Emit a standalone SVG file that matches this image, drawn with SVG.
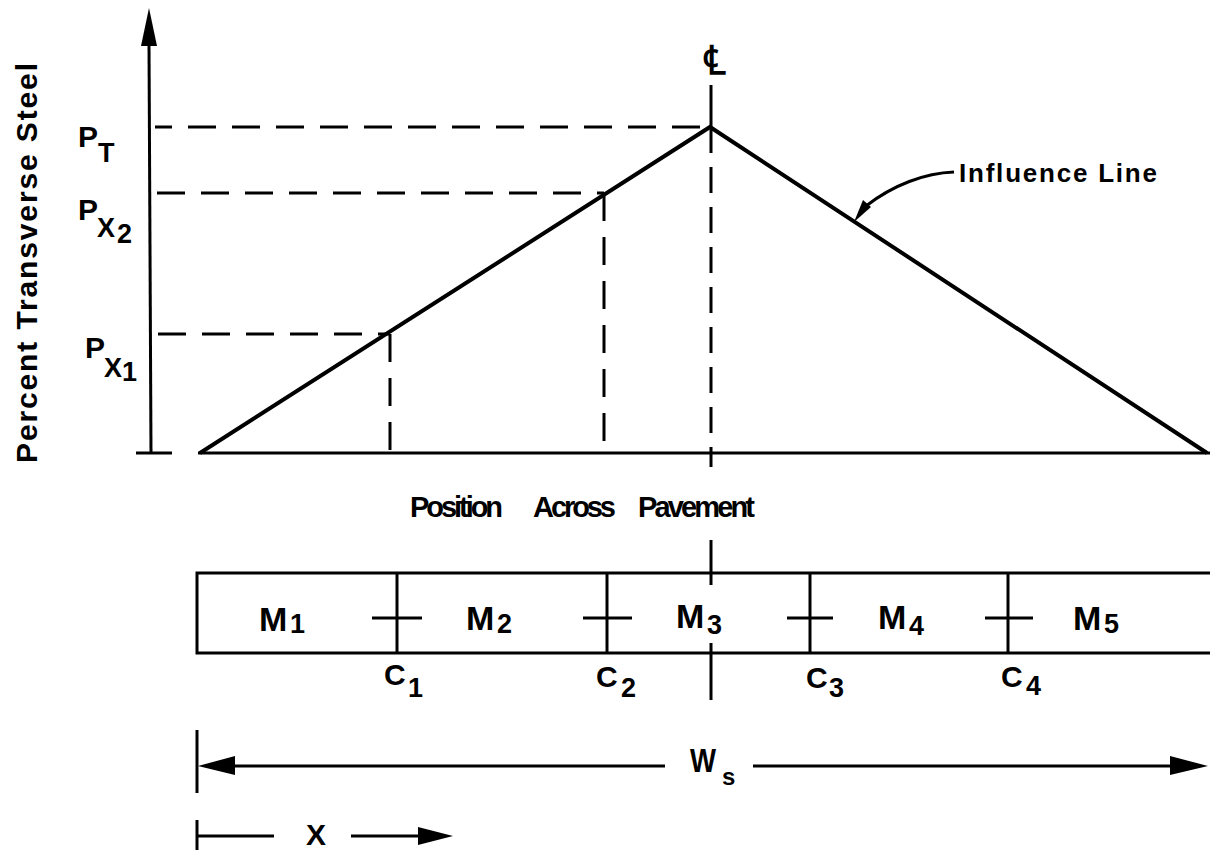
<svg xmlns="http://www.w3.org/2000/svg" width="1210" height="852" viewBox="0 0 1210 852">
<style>
text{font-family:"Liberation Sans",Arial,sans-serif;font-weight:bold;fill:#000}
.ln{stroke:#000;stroke-width:3;fill:none;stroke-linecap:butt}
.thick{stroke:#000;stroke-width:4;fill:none;stroke-linejoin:miter}
.dash{stroke:#000;stroke-width:3;fill:none;stroke-dasharray:28 16}
.vdash{stroke:#000;stroke-width:3;fill:none;stroke-dasharray:26 14}
.ah{fill:#000;stroke:none}
.lab{font-size:30px}
.sub{font-size:27px}
.m{font-size:34px}
</style>
<rect width="1210" height="852" fill="#fff"/>

<g id="y-axis">
  <line class="ln" x1="149" y1="44" x2="151" y2="453" stroke-width="3.5"/>
  <polygon class="ah" points="149,8 141,46 157,46"/>
  <line class="ln" x1="136" y1="453" x2="172" y2="453"/>
  <text class="lab" transform="translate(37,263) rotate(-90)" text-anchor="middle" textLength="400" lengthAdjust="spacing">Percent Transverse Steel</text>
</g>

<g id="y-labels">
  <text class="lab" x="78" y="147">P</text><text class="sub" x="98" y="162">T</text>
  <text class="lab" x="78" y="220">P</text><text class="sub" x="97" y="237">X</text><text class="sub" x="117" y="243">2</text>
  <text class="lab" x="85" y="358">P</text><text class="sub" x="104" y="377">X</text><text class="sub" x="122" y="381">1</text>
</g>

<g id="influence-line">
  <line class="ln" x1="198" y1="453" x2="1210" y2="453"/>
  <polyline class="thick" points="200,453 710,127 1207,453"/>
  <text font-size="26px" x="959" y="182" textLength="198" lengthAdjust="spacing">Influence Line</text>
</g>

<g id="centerline">
  <text font-family="'DejaVu Sans',sans-serif" font-weight="bold" font-size="40px" x="714" y="74" text-anchor="middle">℄</text>
  <line class="ln" x1="711" y1="85" x2="711" y2="127"/>
  <line class="vdash" x1="711" y1="127" x2="711" y2="453"/>
  <line class="ln" x1="711" y1="453" x2="711" y2="467"/>
  <line class="ln" x1="711" y1="540" x2="711" y2="585"/>
  <line class="ln" x1="711" y1="643" x2="711" y2="700"/>
</g>

<g id="axis-title">
  <text font-size="29px" x="410" y="517" textLength="93" lengthAdjust="spacing">Position</text>
  <text font-size="29px" x="533" y="517" textLength="83" lengthAdjust="spacing">Across</text>
  <text font-size="29px" x="638" y="517" textLength="117" lengthAdjust="spacing">Pavement</text>
</g>

<g id="slab">
  <path class="ln" d="M1210 573 H197 V653 H1210"/>
  <line class="ln" x1="397" y1="573" x2="397" y2="653"/>
  <line class="ln" x1="607" y1="573" x2="607" y2="653"/>
  <line class="ln" x1="810" y1="573" x2="810" y2="653"/>
  <line class="ln" x1="1008" y1="573" x2="1008" y2="653"/>
  <line class="ln" x1="372" y1="618" x2="422" y2="618"/>
  <line class="ln" x1="583" y1="618" x2="632" y2="618"/>
  <line class="ln" x1="787" y1="618" x2="833" y2="618"/>
  <line class="ln" x1="985" y1="618" x2="1033" y2="618"/>
</g>

<g id="panel-labels">
  <text class="m" x="259" y="631">M</text><text class="sub" x="290" y="633">1</text>
  <text class="m" x="466" y="630">M</text><text class="sub" x="497" y="633">2</text>
  <text class="m" x="676" y="628">M</text><text class="sub" x="707" y="634">3</text>
  <text class="m" x="878" y="629">M</text><text class="sub" x="909" y="635">4</text>
  <text class="m" x="1073" y="630">M</text><text class="sub" x="1104" y="633">5</text>
</g>

<g id="joint-labels">
  <text class="lab" x="384" y="685">C</text><text class="sub" x="408" y="697">1</text>
  <text class="lab" x="596" y="687">C</text><text class="sub" x="621" y="697">2</text>
  <text class="lab" x="806" y="688">C</text><text class="sub" x="829" y="697">3</text>
  <text class="lab" x="1001" y="687">C</text><text class="sub" x="1026" y="695">4</text>
</g>

<g id="dimension-labels">
  <text font-size="33px" x="690" y="772" textLength="26" lengthAdjust="spacingAndGlyphs">W</text>
  <text font-size="24px" x="722" y="785">s</text>
  <text class="lab" x="306" y="845">X</text>
</g>

<g id="connectors">
  <line class="dash" x1="155" y1="127" x2="708" y2="127" stroke-dashoffset="11"/>
  <line class="dash" x1="157" y1="193" x2="604" y2="193"/>
  <line class="dash" x1="158" y1="334" x2="390" y2="334"/>
  <line class="dash" x1="390" y1="334" x2="390" y2="453"/>
  <line class="dash" x1="604" y1="193" x2="604" y2="453"/>
  <path class="ln" d="M954 172 C925 173 893 185 866 206"/>
  <polygon class="ah" points="854,222 871,207 863,200"/>
  <line class="ln" x1="197" y1="730" x2="197" y2="793"/>
  <line class="ln" x1="230" y1="766" x2="665" y2="766" stroke-width="2.5"/>
  <line class="ln" x1="753" y1="766" x2="1175" y2="766" stroke-width="2.5"/>
  <polygon class="ah" points="198,766 235,756 235,775"/>
  <polygon class="ah" points="1208,766 1170,756 1170,775"/>
  <line class="ln" x1="197" y1="820" x2="197" y2="850"/>
  <line class="ln" x1="197" y1="836" x2="274" y2="836" stroke-width="2.5"/>
  <line class="ln" x1="351" y1="836" x2="420" y2="836" stroke-width="2.5"/>
  <polygon class="ah" points="453,836 418,827 418,845"/>
</g>
</svg>
